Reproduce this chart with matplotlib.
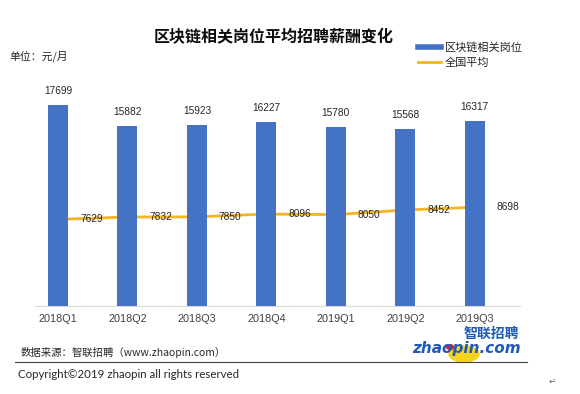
import numpy as np
import matplotlib
matplotlib.use('Agg')
from matplotlib import pyplot as plt
from matplotlib.lines import Line2D
from matplotlib.patches import Ellipse, Circle

plt.rcParams['font.family'] = ['Noto Sans CJK SC', 'DejaVu Sans']

quarters = ['2018Q1', '2018Q2', '2018Q3', '2018Q4', '2019Q1', '2019Q2', '2019Q3']
blockchain = [17699, 15882, 15923, 16227, 15780, 15568, 16317]
national = [7629, 7832, 7850, 8096, 8050, 8452, 8698]

W, H = 580, 394
fig = plt.figure(figsize=(W / 100, H / 100), dpi=100)

def fx(px):
    return px / W

def fy(py):
    return 1 - py / H

# axes: x from 35 to 520 px, baseline at 306 px, top at 80 px
ax = fig.add_axes([fx(35), fy(306), fx(520) - fx(35), fy(80) - fy(306)])
x = np.arange(len(quarters))

ax.plot(x, national, color='#F5B520', lw=2.0, zorder=1)
ax.bar(x, blockchain, width=0.29, color='#4472C4', zorder=2)

for xi, v in zip(x, blockchain):
    ax.annotate(str(v), (xi, v), xytext=(0, 10), textcoords='offset points',
                ha='center', va='center', fontsize=7.3,
                family='Liberation Sans', color='#262626')
for xi, v in zip(x, national):
    ax.text(xi + 0.48, v, str(v), ha='center', va='center', fontsize=7.3,
            family='Liberation Sans', color='#262626', zorder=3)

ax.set_xlim(-0.33, 6.65)
ax.set_ylim(0, 19900)
ax.set_xticks(x)
ax.set_xticklabels(quarters, family='Liberation Sans', fontsize=7.8, color='#404040')
ax.tick_params(axis='x', length=0, pad=6)
ax.set_yticks([])
for s in ['top', 'right', 'left']:
    ax.spines[s].set_visible(False)
ax.spines['bottom'].set_color('#D9D9D9')
ax.spines['bottom'].set_linewidth(0.8)

fig.text(fx(274), fy(37), '区块链相关岗位平均招聘薪酬变化', ha='center', va='center',
         fontsize=11.5, fontweight='bold', color='#0D0D0D')
fig.text(fx(9), fy(56), '单位：元/月', ha='left', va='center', fontsize=7.8, color='#262626')

handles = [Line2D([], [], color='#4472C4', lw=4),
           Line2D([], [], color='#F5B520', lw=2)]
fig.legend(handles, ['区块链相关岗位', '全国平均'], loc='upper left',
           bbox_to_anchor=(fx(418), fy(42)), frameon=False, fontsize=8,
           handlelength=2.1, handletextpad=0.3, labelspacing=0.45,
           borderaxespad=0, borderpad=0, labelcolor='#262626')

# footer
fig.text(fx(21), fy(352), '数据来源：智联招聘（www.zhaopin.com）', ha='left', va='center',
         fontsize=7.5, color='#262626')
fig.add_artist(Line2D([fx(15), fx(527)], [fy(362), fy(362)], color='#404040', lw=0.8))
fig.text(fx(18), fy(375), 'Copyright©2019 zhaopin all rights reserved', ha='left',
         va='center', fontsize=8.3, family='Lato', color='#262626')
fig.text(fx(552), fy(381), '↵', ha='center', va='center', fontsize=6,
         family='DejaVu Sans', color='#606060')

# logo
fig.add_artist(Ellipse((fx(464), fy(354)), fx(30), 16 / H, color='#F7D31E', zorder=0))
fig.add_artist(Circle((fx(450), fy(347)), 3.5 / W, color='#D8232A', zorder=1))
fig.text(fx(491), fy(334), '智联招聘', ha='center', va='center', fontsize=10,
         fontweight='bold', style='italic', color='#1F5BB5')
fig.text(fx(466), fy(349), 'zhaopin.com', ha='center', va='center', fontsize=11,
         fontweight='bold', style='italic', family='DejaVu Sans', color='#1F5BB5')

fig.savefig('out.png', dpi=100)
